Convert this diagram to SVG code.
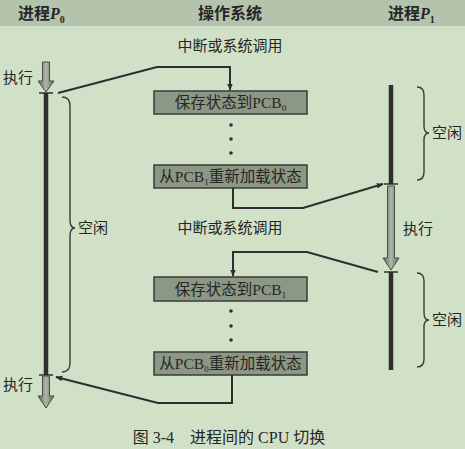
<svg xmlns="http://www.w3.org/2000/svg" width="465" height="449" viewBox="0 0 465 449">
  <defs>
    <linearGradient id="execFill" x1="0" y1="0" x2="1" y2="0">
      <stop offset="0" stop-color="#5e6a5c"/>
      <stop offset="0.5" stop-color="#aeb7a8"/>
      <stop offset="1" stop-color="#5e6a5c"/>
    </linearGradient>
    <marker id="arrow" viewBox="0 0 10 10" refX="9" refY="5" markerWidth="7" markerHeight="7" orient="auto" markerUnits="userSpaceOnUse">
      <path d="M0,1 L10,5 L0,9 z" fill="#2e2e2e"/>
    </marker>
    <style>
      .cjk { font-family: "Liberation Serif", "Noto Sans CJK SC", serif; fill: #262626; }
      .hdr { font-size: 16px; font-weight: bold; }
      .lbl { font-size: 15px; }
      .boxtxt { font-size: 15.5px; text-anchor: middle; }
      .box { fill: #8c9784; stroke: #3a3a3a; stroke-width: 1.5; }
      .wire { fill: none; stroke: #2e2e2e; stroke-width: 2; }
      .run { fill: none; stroke: #2f2f2f; stroke-width: 4.5; }
      .tick { stroke: #2f2f2f; stroke-width: 1.5; }
      .exec { fill: url(#execFill); stroke: #4a4a4a; stroke-width: 1; }
      .brace { fill: none; stroke: #3a3a3a; stroke-width: 1.4; }
      .dot { fill: #2e2e2e; }
    </style>
  </defs>

  <!-- background and header band -->
  <rect x="0" y="0" width="465" height="449" fill="#d1e1c7"/>
  <rect x="0" y="0" width="465" height="26" fill="#b4c3ac"/>

  <g id="header">
    <text class="cjk hdr" x="18" y="19">进程<tspan font-style="italic">P</tspan><tspan font-size="10" dy="4">0</tspan></text>
    <text class="cjk hdr" x="230" y="19" text-anchor="middle">操作系统</text>
    <text class="cjk hdr" x="388" y="19">进程<tspan font-style="italic">P</tspan><tspan font-size="10" dy="4">1</tspan></text>
  </g>

  <!-- process P0 timeline -->
  <g id="p0">
    <path class="exec" d="M42.5,62 H49.5 V81 H54 L46,92 L38,81 H42.5 Z"/>
    <line class="tick" x1="39" y1="93" x2="53" y2="93"/>
    <line class="run" x1="46" y1="93" x2="46" y2="375"/>
    <line class="tick" x1="39" y1="375" x2="53" y2="375"/>
    <path class="exec" d="M42.5,376 H49.5 V396 H54 L46,408 L38,396 H42.5 Z"/>
    <text class="cjk lbl" x="3" y="83">执行</text>
    <text class="cjk lbl" x="3" y="390">执行</text>
    <path class="brace" d="M62,97 Q70,97 70,106 L70,220 Q70,228 75,228 Q70,228 70,236 L70,363 Q70,372 62,372"/>
    <text class="cjk lbl" x="78" y="233">空闲</text>
  </g>

  <!-- process P1 timeline -->
  <g id="p1">
    <line class="run" x1="391" y1="85" x2="391" y2="184"/>
    <line class="tick" x1="384" y1="184" x2="398" y2="184"/>
    <path class="exec" d="M387.5,186 H394.5 V258 H399 L391,270 L383,258 H387.5 Z"/>
    <line class="tick" x1="384" y1="272" x2="398" y2="272"/>
    <line class="run" x1="391" y1="272" x2="391" y2="370"/>
    <text class="cjk lbl" x="403" y="234">执行</text>
    <path class="brace" d="M417,87 Q424,87 424,95 L424,126 Q424,133 429,133 Q424,133 424,140 L424,172 Q424,180 417,180"/>
    <text class="cjk lbl" x="432" y="138">空闲</text>
    <path class="brace" d="M417,273 Q424,273 424,281 L424,313 Q424,320 429,320 Q424,320 424,327 L424,359 Q424,367 417,367"/>
    <text class="cjk lbl" x="432" y="325">空闲</text>
  </g>

  <!-- operating system steps -->
  <g id="os-labels">
    <text class="cjk lbl" x="230" y="51" text-anchor="middle">中断或系统调用</text>
    <text class="cjk lbl" x="230" y="233" text-anchor="middle">中断或系统调用</text>
  </g>

  <g id="save-pcb0">
    <rect class="box" x="154" y="91" width="153" height="23"/>
    <text class="cjk boxtxt" x="230.5" y="108">保存状态到PCB<tspan font-size="9" dy="3">0</tspan></text>
  </g>
  <g id="dots-1">
    <circle class="dot" cx="231" cy="125" r="1.8"/>
    <circle class="dot" cx="231" cy="139" r="1.8"/>
    <circle class="dot" cx="231" cy="153" r="1.8"/>
  </g>
  <g id="load-pcb1">
    <rect class="box" x="154" y="165" width="153" height="23"/>
    <text class="cjk boxtxt" x="230.5" y="182">从PCB<tspan font-size="9" dy="3">1</tspan><tspan dy="-3">重新加载状态</tspan></text>
  </g>

  <g id="save-pcb1">
    <rect class="box" x="154" y="277" width="153" height="24"/>
    <text class="cjk boxtxt" x="230.5" y="295">保存状态到PCB<tspan font-size="9" dy="3">1</tspan></text>
  </g>
  <g id="dots-2">
    <circle class="dot" cx="231" cy="311" r="1.8"/>
    <circle class="dot" cx="231" cy="326" r="1.8"/>
    <circle class="dot" cx="231" cy="340" r="1.8"/>
  </g>
  <g id="load-pcb0">
    <rect class="box" x="154" y="352" width="153" height="23"/>
    <text class="cjk boxtxt" x="230.5" y="369">从PCB<tspan font-size="9" dy="3">0</tspan><tspan dy="-3">重新加载状态</tspan></text>
  </g>

  <!-- control transfers -->
  <g id="connectors">
    <path class="wire" d="M58,93 L157,67 L230,67 L230,90" marker-end="url(#arrow)"/>
    <path class="wire" d="M233,188 L233,208 L303,208 L383,184" marker-end="url(#arrow)"/>
    <path class="wire" d="M378,272 L307,252 L233,252 L233,276" marker-end="url(#arrow)"/>
    <path class="wire" d="M232,375 L232,403 L158,403 L56,377" marker-end="url(#arrow)"/>
  </g>

  <g id="caption">
    <text class="cjk" x="229" y="443" font-size="16" text-anchor="middle" fill="#333">图 3-4　进程间的 CPU 切换</text>
  </g>
</svg>
